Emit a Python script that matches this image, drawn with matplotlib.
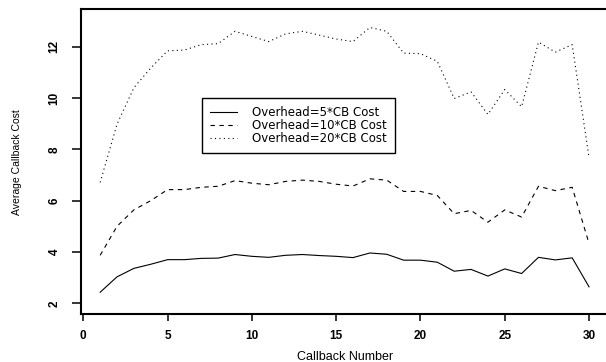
import numpy as np
import matplotlib
matplotlib.use("Agg")
import matplotlib.pyplot as plt

# callback number 1..30
callbacks = list(range(1, 31))

# average callback cost for each overhead setting
cost_5 = [2.43, 3.03, 3.36, 3.52, 3.70, 3.70, 3.75, 3.76, 3.90, 3.83,
          3.79, 3.87, 3.90, 3.86, 3.83, 3.78, 3.96, 3.91, 3.68, 3.68,
          3.60, 3.25, 3.32, 3.06, 3.34, 3.16, 3.79, 3.69, 3.77, 2.64]
cost_10 = [3.87, 5.00, 5.64, 6.00, 6.43, 6.43, 6.52, 6.56, 6.78, 6.68,
           6.62, 6.75, 6.80, 6.75, 6.64, 6.57, 6.85, 6.80, 6.36, 6.36,
           6.20, 5.49, 5.62, 5.16, 5.64, 5.36, 6.56, 6.39, 6.52, 4.33]
cost_20 = [6.71, 8.98, 10.40, 11.17, 11.84, 11.87, 12.08, 12.12, 12.60, 12.40,
           12.20, 12.50, 12.60, 12.45, 12.30, 12.20, 12.75, 12.60, 11.75, 11.73,
           11.43, 9.98, 10.24, 9.36, 10.33, 9.66, 12.18, 11.79, 12.08, 7.68]

labels = ["Overhead=5*CB Cost", "Overhead=10*CB Cost", "Overhead=20*CB Cost"]
xticks = [0, 5, 10, 15, 20, 25, 30]
yticks = [2, 4, 6, 8, 10, 12]

plt.rcParams['font.family'] = ['Liberation Sans', 'DejaVu Sans']

W, H = 606, 362
fig = plt.figure(figsize=(W / 100, H / 100), dpi=100)
ax = fig.add_axes([80.6 / W, (H - 314.3) / H, 528.0 / W, 305.3 / H])

lw = 0.8
ax.plot(callbacks, cost_5, color='black', lw=lw, linestyle='-', label=labels[0])
ax.plot(callbacks, cost_10, color='black', lw=lw, linestyle=(0, (4, 4)), label=labels[1])
ax.plot(callbacks, cost_20, color='black', lw=lw, linestyle=(0, (1, 3)), label=labels[2])

ax.set_xlim(-0.16, 31.16)
ax.set_ylim(1.57, 13.47)

ax.spines['right'].set_visible(False)
for s in ['left', 'bottom', 'top']:
    ax.spines[s].set_linewidth(1.5)

ax.set_xticks(xticks)
ax.set_yticks(yticks)
ax.tick_params(axis='x', length=5, width=1.1, pad=6, labelsize=8.5)
ax.tick_params(axis='y', length=6.5, width=1.1, pad=8, labelsize=8.5)
for t in ax.get_xticklabels():
    t.set_fontweight('bold')
for t in ax.get_yticklabels():
    t.set_fontweight('bold')
    t.set_rotation(90)
    t.set_va('center')

fig.text(344.7 / W, (H - 356.7) / H, "Callback Number", ha='center', va='center', fontsize=9)
fig.text(17 / W, (H - 162.5) / H, "Average Callback Cost", ha='center', va='center',
         rotation=90, fontsize=7.5)

leg = ax.legend(loc='upper left', bbox_to_anchor=(201.7 / W, (H - 97.7) / H),
                bbox_transform=fig.transFigure, borderaxespad=0,
                prop={'family': 'DejaVu Sans', 'size': 8.5},
                frameon=True, fancybox=False, framealpha=1, edgecolor='black',
                handlelength=2.3, handletextpad=1.3, borderpad=0.7, labelspacing=0.0)
leg.get_frame().set_linewidth(1.0)

fig.savefig("out.png", dpi=100)
